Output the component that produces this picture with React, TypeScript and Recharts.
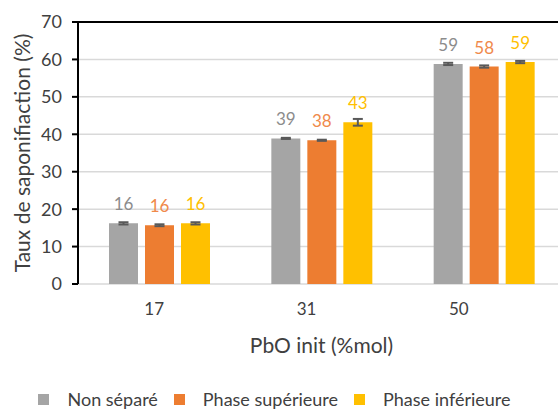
import React from 'react';
import {
  BarChart,
  Bar,
  XAxis,
  YAxis,
  CartesianGrid,
  ErrorBar,
  LabelList,
  Legend,
  ReferenceLine,
} from 'recharts';

const categories = ['17', '31', '50'];
const nonSepare = [16.2, 38.9, 58.8];
const nonSepareErr = [0.3, 0.15, 0.3];
const phaseSup = [15.7, 38.4, 58.1];
const phaseSupErr = [0.25, 0.15, 0.3];
const phaseInf = [16.2, 43.2, 59.3];
const phaseInfErr = [0.3, 0.9, 0.3];
const yTicks = [0, 10, 20, 30, 40, 50, 60, 70];
const yMinorTicks = Array.from({ length: 36 }, (_, i) => i * 2);

const data = categories.map((cat, i) => ({
  cat,
  nonSepare: nonSepare[i],
  nonSepareErr: nonSepareErr[i],
  phaseSup: phaseSup[i],
  phaseSupErr: phaseSupErr[i],
  phaseInf: phaseInf[i],
  phaseInfErr: phaseInfErr[i],
}));

const FONT = 'Lato, "Open Sans", sans-serif';
const TEXT = '#404040';

const YTitle = ({ viewBox }: any) => {
  const cx = viewBox.x + 21;
  const cy = viewBox.y + viewBox.height / 2;
  return (
    <text
      x={cx}
      y={cy}
      transform={`rotate(-90 ${cx} ${cy})`}
      textAnchor="middle"
      dominantBaseline="central"
      fontSize={21}
      fill={TEXT}
    >
      Taux de saponifiaction (%)
    </text>
  );
};

const XTitle = ({ viewBox }: any) => {
  const cx = viewBox.x + viewBox.width / 2;
  const cy = viewBox.y + 60;
  return (
    <text x={cx} y={cy} textAnchor="middle" dominantBaseline="central" fontSize={21} fill={TEXT}>
      PbO init (%mol)
    </text>
  );
};

const renderLegend = ({ payload }: any) => (
  <div style={{ display: 'flex', justifyContent: 'center', alignItems: 'center', height: 30, paddingTop: 8, boxSizing: 'border-box', fontSize: 18, color: TEXT }}>
    {payload.map((p: any) => (
      <div key={p.value} style={{ display: 'flex', alignItems: 'center', marginRight: 16 }}>
        <span style={{ width: 11, height: 11, background: p.color, marginRight: 18 }} />
        <span>{p.value}</span>
      </div>
    ))}
  </div>
);

export default function App() {
  return (
    <div style={{ position: 'absolute', left: 0, top: 0, width: 558, height: 410, overflow: 'hidden', background: '#fff', fontFamily: FONT }}>
      <BarChart
        width={600}
        height={410}
        data={data}
        margin={{ top: 22, right: 35, left: 0, bottom: 0 }}
        barSize={29}
        barGap={7}
      >
        <CartesianGrid vertical={false} stroke="#D9D9D9" strokeWidth={1.5} />
        <XAxis dataKey="cat" height={0} tick={false} tickLine={false} axisLine={{ stroke: '#000', strokeWidth: 2 }} />
        <XAxis
          xAxisId="lab"
          dataKey="cat"
          height={96}
          padding={{ left: 0, right: 30 }}
          axisLine={false}
          tickLine={false}
          tickSize={0}
          tickMargin={19}
          tick={{ fontSize: 17, fill: TEXT }}
          label={<XTitle />}
        />
        <YAxis
          width={78}
          domain={[0, 70]}
          ticks={yTicks}
          interval={0}
          tickSize={6}
          tickMargin={10}
          axisLine={{ stroke: '#000', strokeWidth: 2 }}
          tickLine={{ stroke: '#000', strokeWidth: 2 }}
          tick={{ fontSize: 18, fill: TEXT }}
          label={<YTitle />}
        />
        <YAxis
          yAxisId="minor"
          mirror
          width={0}
          domain={[0, 70]}
          ticks={yMinorTicks}
          interval={0}
          tickSize={5}
          axisLine={false}
          tickLine={{ stroke: '#000', strokeWidth: 1.5 }}
          tick={{ fill: 'none' }}
          tickFormatter={() => ''}
        />
        <ReferenceLine y={70} stroke="#000" strokeWidth={2} />
        <Legend verticalAlign="bottom" height={30} content={renderLegend} itemSorter={() => 0} />
        <Bar dataKey="nonSepare" name="Non séparé" fill="#A5A5A5" isAnimationActive={false}>
          <ErrorBar dataKey="nonSepareErr" width={5} stroke="#595959" strokeWidth={2} />
          <LabelList dataKey="nonSepare" position="top" offset={13} formatter={(v: any) => Math.round(v)} fill="#8C8C8C" fontSize={17} />
        </Bar>
        <Bar dataKey="phaseSup" name="Phase supérieure" fill="#ED7D31" isAnimationActive={false}>
          <ErrorBar dataKey="phaseSupErr" width={5} stroke="#595959" strokeWidth={2} />
          <LabelList dataKey="phaseSup" position="top" offset={13} formatter={(v: any) => Math.round(v)} fill="#F08A4B" fontSize={17} />
        </Bar>
        <Bar dataKey="phaseInf" name="Phase inférieure" fill="#FFC000" isAnimationActive={false}>
          <ErrorBar dataKey="phaseInfErr" width={5} stroke="#595959" strokeWidth={2} />
          <LabelList dataKey="phaseInf" position="top" offset={13} formatter={(v: any) => Math.round(v)} fill="#FFC000" fontSize={17} />
        </Bar>
      </BarChart>
    </div>
  );
}
